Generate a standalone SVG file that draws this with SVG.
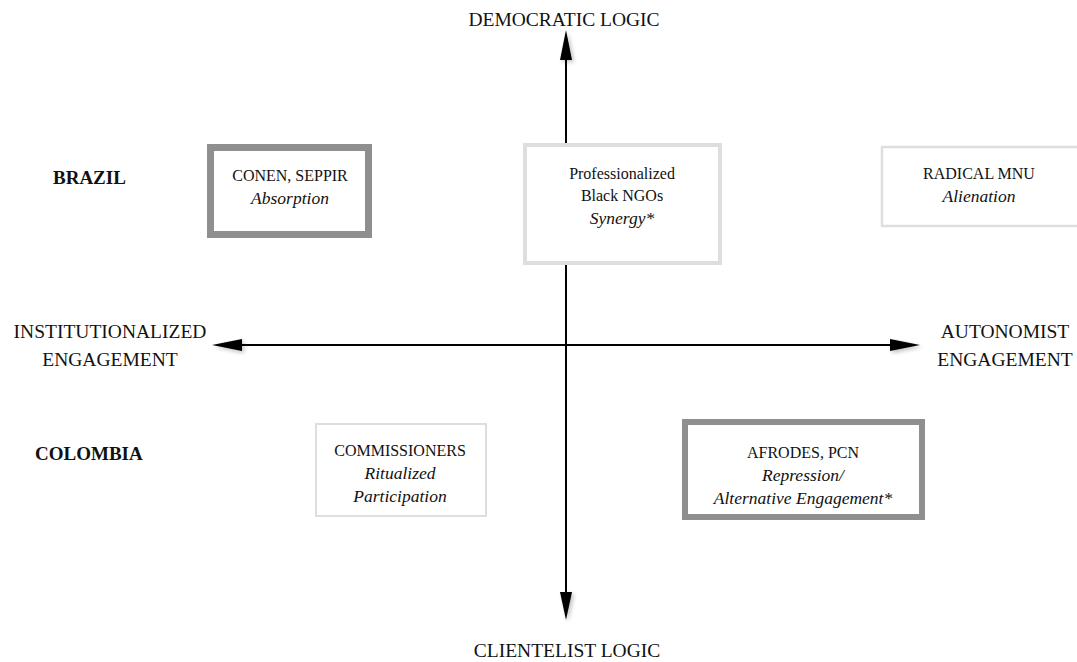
<svg xmlns="http://www.w3.org/2000/svg" width="1077" height="662" viewBox="0 0 1077 662">
<style>
text{font-family:"Liberation Serif","DejaVu Serif",serif;fill:#111}
.ax{font-size:19.5px}
.cty{font-size:19px;font-weight:bold}
.bx{font-size:16px;text-anchor:middle}
.it{font-style:italic;font-size:17.5px}
.axis{stroke:#000;stroke-width:2;fill:none}
.head{fill:#000}
.dark{fill:#fff;stroke:#8f8f8f}
.light{fill:#fff;stroke:#dedede}
</style>
<defs>
<filter id="sh" x="-50%" y="-50%" width="200%" height="200%">
<feGaussianBlur in="SourceAlpha" stdDeviation="2"/>
<feOffset dx="2" dy="2" result="b"/>
<feComponentTransfer><feFuncA type="linear" slope="0.25"/></feComponentTransfer>
<feMerge><feMergeNode/><feMergeNode in="SourceGraphic"/></feMerge>
</filter>
</defs>
<rect width="1077" height="662" fill="#fff"/>
<g id="connectors">
<line class="axis" x1="566" y1="58" x2="566" y2="594"/>
<line class="axis" x1="240" y1="345" x2="892" y2="345"/>
<g filter="url(#sh)">
<polygon class="head" points="566,30 572,60 560,60"/>
<polygon class="head" points="566,620 572,592 560,592"/>
<polygon class="head" points="212,345 242,339 242,351"/>
<polygon class="head" points="920,345 890,339 890,351"/>
</g>
</g>
<g id="axis-labels">
<text class="ax" x="564" y="26" text-anchor="middle">DEMOCRATIC LOGIC</text>
<text class="ax" x="567" y="657" text-anchor="middle">CLIENTELIST LOGIC</text>
<text class="ax" x="110" y="338" text-anchor="middle">INSTITUTIONALIZED</text>
<text class="ax" x="110" y="366" text-anchor="middle">ENGAGEMENT</text>
<text class="ax" x="1005" y="338" text-anchor="middle">AUTONOMIST</text>
<text class="ax" x="1005" y="366" text-anchor="middle">ENGAGEMENT</text>
</g>
<g id="country-brazil"><text class="cty" x="53" y="184">BRAZIL</text></g>
<g id="country-colombia"><text class="cty" x="35" y="460">COLOMBIA</text></g>
<g id="node-conen">
<rect class="dark" x="210.5" y="147.5" width="158" height="87" stroke-width="7"/>
<text class="bx" x="290" y="181">CONEN, SEPPIR</text>
<text class="bx it" x="290" y="204">Absorption</text>
</g>
<g id="node-ngos">
<rect class="light" x="525" y="145" width="195" height="118" stroke-width="4"/>
<text class="bx" x="622" y="179">Professionalized</text>
<text class="bx" x="622" y="201">Black NGOs</text>
<text class="bx it" x="622" y="224">Synergy*</text>
</g>
<g id="node-mnu">
<rect class="light" x="882" y="147" width="200" height="79" stroke-width="2.5"/>
<text class="bx" x="979" y="179">RADICAL MNU</text>
<text class="bx it" x="979" y="202">Alienation</text>
</g>
<g id="node-commissioners">
<rect class="light" x="316" y="424" width="170" height="92" stroke-width="2"/>
<text class="bx" x="400" y="456">COMMISSIONERS</text>
<text class="bx it" x="400" y="479">Ritualized</text>
<text class="bx it" x="400" y="502">Participation</text>
</g>
<g id="node-afrodes">
<rect class="dark" x="685" y="422" width="237" height="95" stroke-width="6"/>
<text class="bx" x="803" y="458">AFRODES, PCN</text>
<text class="bx it" x="803" y="481">Repression/</text>
<text class="bx it" x="803" y="504">Alternative Engagement*</text>
</g>
</svg>
